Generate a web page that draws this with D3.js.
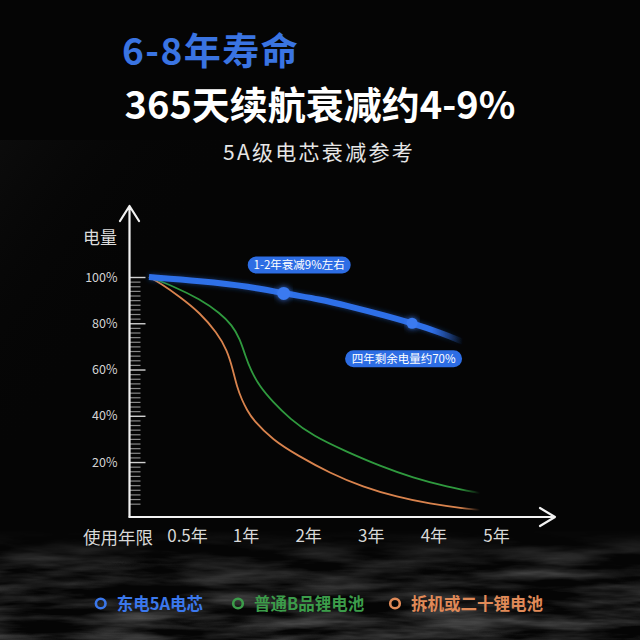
<!DOCTYPE html>
<html>
<head>
<meta charset="utf-8">
<script src="https://cdn.jsdelivr.net/npm/d3@7"></script>
<style>
  html, body { margin: 0; padding: 0; background: #050505; }
  svg { display: block; font-family: "Noto Sans CJK SC", "Noto Sans", sans-serif; }
</style>
</head>
<body>
<div id="chart"></div>
<script>
// Data: [years of use, remaining capacity %]
const seriesNames = ["东电5A电芯", "普通B品锂电池", "拆机或二十锂电池"];
const dongdian = [[0, 100], [0.61, 98.3], [1.08, 95.9], [1.61, 92.9], [2.2, 90.3], [2.63, 87.5], [3.2, 83.5], [3.66, 80], [4.11, 76], [4.47, 72]];
const normalB = [[0, 100], [0.316, 96.1], [0.611, 90.4], [0.782, 84.4], [0.885, 79.2], [0.953, 73.2], [0.996, 66.3], [1.088, 59.4], [1.232, 52.5],
    [1.423, 46.4], [1.711, 38.6], [2.078, 31.3], [2.621, 24.4], [3.148, 18.3], [3.675, 13.2], [4.218, 9.3], [4.745, 6.6]];
const recycled = [[0, 100], [0.145, 97.4], [0.408, 91.4], [0.611, 84.5], [0.756, 75.9], [0.842, 68.5], [0.893, 59.8], [0.927, 52.5], [0.97, 46.8],
    [1.024, 42.5], [1.12, 38.2], [1.439, 29.5], [1.822, 23], [2.349, 15.2], [2.876, 9.2], [3.419, 4.9], [3.946, 1.9], [4.473, 0], [4.745, -0.7]];
const markerYears = [1.61, 3.66];
const markerValues = [92.9, 80];
const notes = ["1-2年衰减9%左右", "四年剩余电量约70%"];
const yearTicks = [0.5, 1, 2, 3, 4, 5];
const pctTicks = [20, 40, 60, 80, 100];

const W = 640, H = 640;
const colors = ["#2f6fe8", "#2f9a3e", "#d9834d"];
const legendColors = ["#3b78ec", "#3c9c4a", "#e08a58"];

const svg = d3.select("#chart").append("svg")
    .attr("width", W)
    .attr("height", H);

const defs = svg.append("defs");

// background texture at the bottom
const noise = defs.append("filter").attr("id", "noise")
    .attr("x", 0).attr("y", 0).attr("width", 1).attr("height", 1);
noise.append("feTurbulence")
    .attr("type", "fractalNoise")
    .attr("baseFrequency", "0.01 0.07")
    .attr("numOctaves", 4)
    .attr("seed", 7);
noise.append("feColorMatrix")
    .attr("type", "matrix")
    .attr("values", "0 0 0 0 0.55  0 0 0 0 0.55  0 0 0 0 0.55  1.7 0 0 0 -0.6");

const fadeUp = defs.append("linearGradient").attr("id", "fadeUp")
    .attr("x1", 0).attr("y1", 0).attr("x2", 0).attr("y2", 1);
fadeUp.append("stop").attr("offset", 0).attr("stop-color", "#fff").attr("stop-opacity", 0);
fadeUp.append("stop").attr("offset", 0.3).attr("stop-color", "#fff").attr("stop-opacity", 0.55);
fadeUp.append("stop").attr("offset", 1).attr("stop-color", "#fff").attr("stop-opacity", 0.85);
const mask = defs.append("mask").attr("id", "bottomMask");
mask.append("rect").attr("x", 0).attr("y", 530).attr("width", W).attr("height", 110)
    .attr("fill", "url(#fadeUp)");

svg.append("rect").attr("width", W).attr("height", H).attr("fill", "#050505");

const band = defs.append("linearGradient").attr("id", "band")
    .attr("x1", 0).attr("y1", 0).attr("x2", 1).attr("y2", 0.6);
band.append("stop").attr("offset", 0).attr("stop-color", "#1a1a1a").attr("stop-opacity", 0.9);
band.append("stop").attr("offset", 0.25).attr("stop-color", "#0b0b0b").attr("stop-opacity", 0.6);
band.append("stop").attr("offset", 0.5).attr("stop-color", "#050505").attr("stop-opacity", 0);
svg.append("rect").attr("x", 0).attr("y", 140).attr("width", 360).attr("height", 300)
    .attr("fill", "url(#band)").attr("opacity", 0.35);

svg.append("rect")
    .attr("x", 0).attr("y", 530).attr("width", W).attr("height", 110)
    .attr("filter", "url(#noise)")
    .attr("mask", "url(#bottomMask)")
    .attr("opacity", 0.6);

// scales
const x = d3.scaleLinear()
    .domain([0, 0.5, 1, 5])
    .range([149, 187, 245.5, 496]);

const y = d3.scaleLinear()
    .domain([0, 100])
    .range([508.3, 277]);

const axisX0 = 129.5, axisY0 = 517;

// titles
svg.append("text")
    .attr("x", 122).attr("y", 65)
    .attr("fill", "#3a74e2")
    .attr("font-size", 37)
    .attr("font-weight", 700)
    .attr("letter-spacing", 1.5)
    .text("6-8年寿命");

svg.append("text")
    .attr("x", 320).attr("y", 119)
    .attr("text-anchor", "middle")
    .attr("fill", "#ffffff")
    .attr("font-size", 38)
    .attr("font-weight", 700)
    .text("365天续航衰减约4-9%");

svg.append("text")
    .attr("x", 319).attr("y", 160)
    .attr("text-anchor", "middle")
    .attr("fill", "#e6e6e6")
    .attr("font-size", 21)
    .attr("letter-spacing", 2.3)
    .text("5A级电芯衰减参考");

// y axis: minor ticks
const minor = d3.range(2, 100, 2).filter(d => d % 20 !== 0);
svg.append("g")
    .attr("transform", `translate(${axisX0},0)`)
    .call(d3.axisLeft(y).tickValues(minor).tickSize(-11).tickFormat(""))
    .call(g => g.select(".domain").remove())
    .call(g => g.selectAll("line").attr("stroke", "#8a8a8a").attr("stroke-width", 1.2));

// y axis: major ticks with labels
svg.append("g")
    .attr("transform", `translate(${axisX0},0)`)
    .call(d3.axisLeft(y).tickValues(pctTicks).tickSize(-16).tickPadding(12).tickFormat(d => d + "%"))
    .call(g => g.select(".domain").remove())
    .call(g => g.selectAll("line").attr("stroke", "#d0d0d0").attr("stroke-width", 1.4))
    .call(g => g.selectAll("text")
        .attr("fill", "#d4d4d4")
        .attr("font-size", 12.5)
        .attr("font-family", "'Noto Sans CJK SC', sans-serif"));

// x axis labels
svg.append("g")
    .attr("transform", `translate(0,${axisY0})`)
    .call(d3.axisBottom(x).tickValues(yearTicks).tickSize(0).tickPadding(13).tickFormat(d => d + "年"))
    .call(g => g.select(".domain").remove())
    .call(g => g.selectAll("text")
        .attr("fill", "#d8d8d8")
        .attr("font-size", 17)
        .attr("font-family", "'Noto Sans CJK SC', sans-serif"));

svg.append("text")
    .attr("x", 83).attr("y", 544)
    .attr("fill", "#d8d8d8")
    .attr("font-size", 17.5)
    .text("使用年限");

svg.append("text")
    .attr("x", 83).attr("y", 244)
    .attr("fill", "#dcdcdc")
    .attr("font-size", 17)
    .text("电量");

// axis lines with arrows
const axisStyle = g => g.attr("fill", "none").attr("stroke", "#f2f2f2")
    .attr("stroke-width", 2.2).attr("stroke-linecap", "round").attr("stroke-linejoin", "round");

svg.append("path")
    .call(axisStyle)
    .attr("d", `M${axisX0},${axisY0} V206 M${axisX0 - 9.5},221 L${axisX0},206 L${axisX0 + 9.5},221`);

svg.append("path")
    .call(axisStyle)
    .attr("d", `M${axisX0},${axisY0} H555 M540,${axisY0 - 9} L555,${axisY0} L540,${axisY0 + 9}`);

// line fades
function fadeGradient(id, color, data, fadeFrom) {
    const x1 = x(data[0][0]), x2 = x(data[data.length - 1][0]);
    const g = defs.append("linearGradient").attr("id", id)
        .attr("gradientUnits", "userSpaceOnUse")
        .attr("x1", x1).attr("y1", 0).attr("x2", x2).attr("y2", 0);
    g.append("stop").attr("offset", 0).attr("stop-color", color).attr("stop-opacity", 1);
    g.append("stop").attr("offset", fadeFrom).attr("stop-color", color).attr("stop-opacity", 1);
    g.append("stop").attr("offset", 1).attr("stop-color", color).attr("stop-opacity", 0);
}

function makeGlow(id, sd, alpha) {
    const f = defs.append("filter").attr("id", id)
        .attr("x", "-20%").attr("y", "-60%").attr("width", "140%").attr("height", "220%");
    f.append("feGaussianBlur").attr("in", "SourceGraphic").attr("stdDeviation", sd).attr("result", "b");
    f.append("feColorMatrix").attr("in", "b").attr("type", "matrix")
        .attr("values", `1 0 0 0 0  0 1 0 0 0  0 0 1 0 0  0 0 0 ${alpha} 0`).attr("result", "bb");
    const m = f.append("feMerge");
    m.append("feMergeNode").attr("in", "bb");
    m.append("feMergeNode").attr("in", "SourceGraphic");
}
makeGlow("glow", 2.5, 0.45);
makeGlow("dotGlow", 3, 0.9);

const line = d3.line()
    .x(d => x(d[0]))
    .y(d => y(d[1]))
    .curve(d3.curveBasis);

const series = [recycled, normalB, dongdian];
const order = [2, 1, 0];
series.forEach((data, i) => {
    const k = order[i];
    fadeGradient("grad" + k, colors[k], data, k === 0 ? 0.9 : 0.94);
    svg.append("path")
        .datum(data)
        .attr("fill", "none")
        .attr("stroke", `url(#grad${k})`)
        .attr("stroke-width", k === 0 ? 6 : 1.8)
        .attr("stroke-linecap", "butt")
        .attr("filter", k === 0 ? "url(#glow)" : null)
        .attr("d", line);
});

// markers
const markers = markerYears.map((t, i) => [t, markerValues[i]]);
svg.selectAll(".marker")
    .data(markers)
    .join("circle")
    .attr("class", "marker")
    .attr("cx", d => x(d[0]))
    .attr("cy", d => y(d[1]))
    .attr("r", (d, i) => i === 0 ? 6.5 : 5.5)
    .attr("fill", "#3a7af0")
    .attr("filter", "url(#dotGlow)");

// annotation pills
const pillOffsets = [[15.5, -28.5], [-8.5, 35.5]];
const pillWidths = [103, 117];
notes.forEach((txt, i) => {
    const cx = x(markers[i][0]) + pillOffsets[i][0];
    const cy = y(markers[i][1]) + pillOffsets[i][1];
    svg.append("rect")
        .attr("x", cx - pillWidths[i] / 2).attr("y", cy - 8.5)
        .attr("width", pillWidths[i]).attr("height", 17)
        .attr("rx", 8.5)
        .attr("fill", "#2d6de4");
    svg.append("text")
        .attr("x", cx).attr("y", cy + 4)
        .attr("text-anchor", "middle")
        .attr("fill", "#ffffff")
        .attr("font-size", 11.5)
        .text(txt);
});

// legend
const legendX = [100.7, 238, 395];
const legend = svg.append("g");
seriesNames.forEach((name, i) => {
    legend.append("circle")
        .attr("cx", legendX[i]).attr("cy", 603.5)
        .attr("r", 4.8)
        .attr("fill", "none")
        .attr("stroke", legendColors[i])
        .attr("stroke-width", 2.6);
    legend.append("text")
        .attr("x", legendX[i] + 16).attr("y", 609.5)
        .attr("fill", legendColors[i])
        .attr("font-size", 16.5)
        .attr("font-weight", 700)
        .text(name);
});
</script>
</body>
</html>
